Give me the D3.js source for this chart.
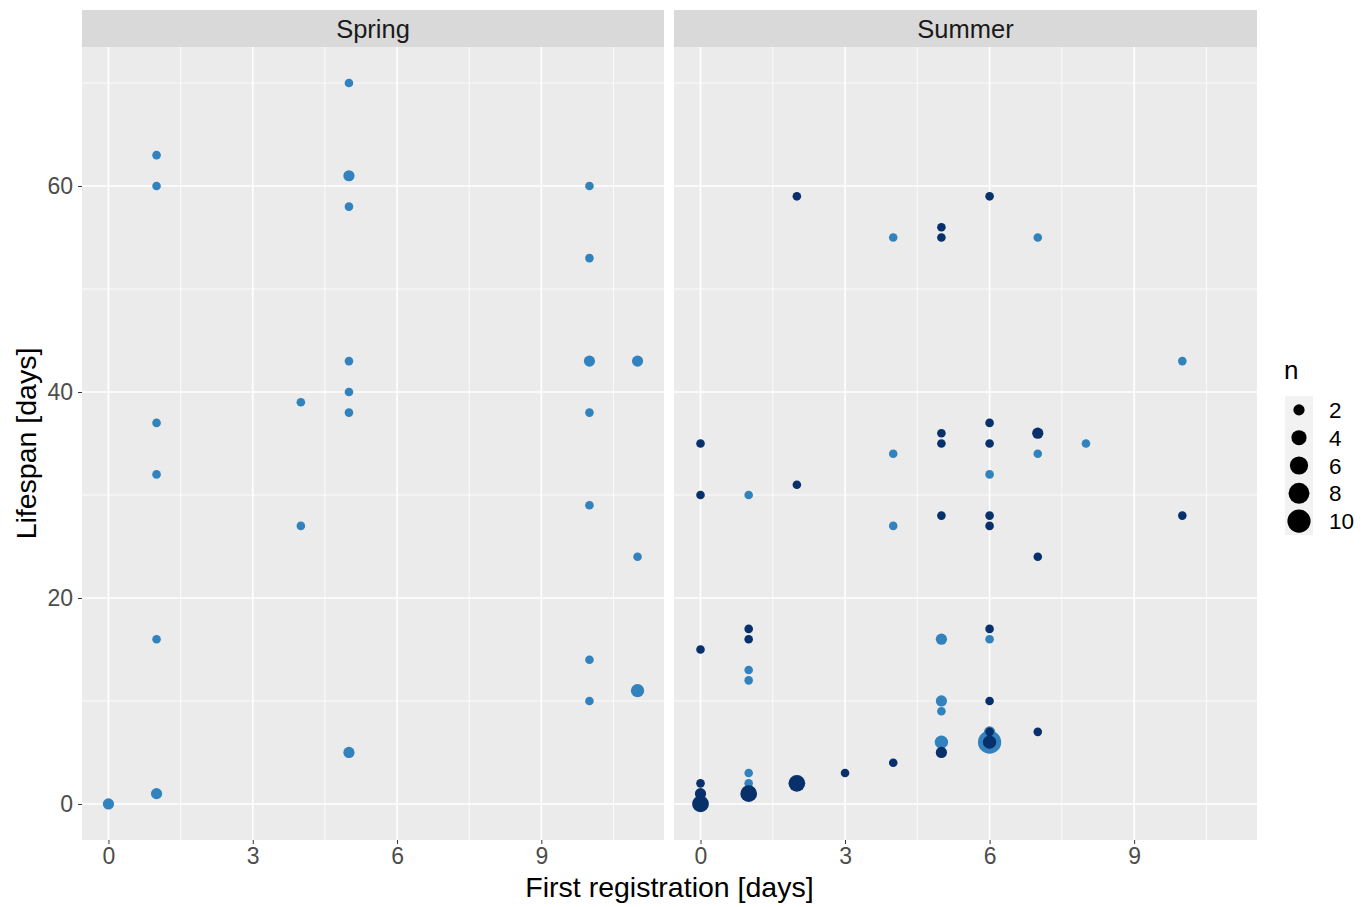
<!DOCTYPE html>
<html>
<head>
<meta charset="utf-8">
<script src="https://cdn.jsdelivr.net/npm/d3@7"></script>
<style>
  html, body { margin: 0; padding: 0; background: #ffffff; }
  svg { display: block; font-family: "Liberation Sans", Arial, Helvetica, sans-serif; }
</style>
</head>
<body>
<svg id="chart" width="1371" height="907"></svg>
<script>
// ---------------- data ----------------
const facets = ["Spring", "Summer"];
const xTicks = [0, 3, 6, 9];
const yTicks = [0, 20, 40, 60];
const legendValues = [2, 4, 6, 8, 10];

// [firstRegistration, lifespan, n]
const springLight = [
  [0, 0, 2],
  [1, 63, 1], [1, 60, 1], [1, 37, 1], [1, 32, 1], [1, 16, 1], [1, 1, 2],
  [4, 39, 1], [4, 27, 1],
  [5, 70, 1], [5, 61, 2], [5, 58, 1], [5, 43, 1], [5, 40, 1], [5, 38, 1], [5, 5, 2],
  [10, 60, 1], [10, 53, 1], [10, 43, 2], [10, 38, 1], [10, 29, 1], [10, 14, 1], [10, 10, 1],
  [11, 43, 2], [11, 24, 1], [11, 11, 3]
];
const springDark = [];

const summerLight = [
  [1, 30, 1], [1, 13, 1], [1, 12, 1], [1, 3, 1], [1, 2, 1],
  [4, 55, 1], [4, 34, 1], [4, 27, 1],
  [5, 16, 2], [5, 10, 2], [5, 9, 1], [5, 6, 3],
  [6, 32, 1], [6, 16, 1], [6, 7, 2], [6, 6, 10],
  [7, 55, 1], [7, 34, 1],
  [8, 35, 1],
  [10, 43, 1]
];
const summerDark = [
  [0, 35, 1], [0, 30, 1], [0, 15, 1], [0, 2, 1], [0, 1, 2], [0, 0, 5],
  [1, 17, 1], [1, 16, 1], [1, 1, 5],
  [2, 59, 1], [2, 31, 1], [2, 2, 5],
  [3, 3, 1],
  [4, 4, 1],
  [5, 56, 1], [5, 55, 1], [5, 36, 1], [5, 35, 1], [5, 28, 1], [5, 5, 2],
  [6, 59, 1], [6, 37, 1], [6, 35, 1], [6, 28, 1], [6, 27, 1], [6, 17, 1], [6, 10, 1], [6, 7, 1], [6, 6, 3],
  [7, 36, 2], [7, 24, 1], [7, 7, 1],
  [10, 28, 1]
];

const lightColor = "#3182bd";
const darkColor = "#08306b";

// ---------------- layout ----------------
const svg = d3.select("#chart");
const panelTop = 47, panelBottom = 840, stripTop = 10;
const panels = [
  { name: facets[0], x0: 82, x1: 664, layers: [[springLight, lightColor], [springDark, darkColor]] },
  { name: facets[1], x0: 674, x1: 1257, layers: [[summerLight, lightColor], [summerDark, darkColor]] }
];

const y = d3.scaleLinear().domain([-3.5, 73.5]).range([panelBottom, panelTop]);
const r = d3.scaleRadial().domain([1, 10]).range([4.3, 11.6]);

const xMinor = [1.5, 4.5, 7.5, 10.5];
const yMinor = [10, 30, 50, 70];

panels.forEach(p => {
  const x = d3.scaleLinear().domain([-0.55, 11.55]).range([p.x0, p.x1]);
  const g = svg.append("g");

  // strip
  g.append("rect").attr("x", p.x0).attr("y", stripTop)
    .attr("width", p.x1 - p.x0).attr("height", panelTop - stripTop).attr("fill", "#d9d9d9");
  g.append("text").attr("x", (p.x0 + p.x1) / 2).attr("y", (stripTop + panelTop) / 2)
    .attr("dy", "0.36em").attr("text-anchor", "middle")
    .attr("font-size", 25.5).attr("fill", "#1a1a1a").text(p.name);

  // panel background
  g.append("rect").attr("x", p.x0).attr("y", panelTop)
    .attr("width", p.x1 - p.x0).attr("height", panelBottom - panelTop).attr("fill", "#ebebeb");

  // minor grid
  g.selectAll(".ymin").data(yMinor).join("line")
    .attr("x1", p.x0).attr("x2", p.x1).attr("y1", d => y(d)).attr("y2", d => y(d))
    .attr("stroke", "#ffffff").attr("stroke-width", 0.8);
  g.selectAll(".xmin").data(xMinor).join("line")
    .attr("y1", panelTop).attr("y2", panelBottom).attr("x1", d => x(d)).attr("x2", d => x(d))
    .attr("stroke", "#ffffff").attr("stroke-width", 0.8);
  // major grid
  g.selectAll(".ymaj").data(yTicks).join("line")
    .attr("x1", p.x0).attr("x2", p.x1).attr("y1", d => y(d)).attr("y2", d => y(d))
    .attr("stroke", "#ffffff").attr("stroke-width", 1.6);
  g.selectAll(".xmaj").data(xTicks).join("line")
    .attr("y1", panelTop).attr("y2", panelBottom).attr("x1", d => x(d)).attr("x2", d => x(d))
    .attr("stroke", "#ffffff").attr("stroke-width", 1.6);

  // points
  p.layers.forEach(([data, color]) => {
    g.append("g").selectAll("circle").data(data).join("circle")
      .attr("cx", d => x(d[0])).attr("cy", d => y(d[1])).attr("r", d => r(d[2]))
      .attr("fill", color);
  });

  // x axis
  const xAxis = g.append("g").attr("transform", `translate(0,${panelBottom})`)
    .call(d3.axisBottom(x).tickValues(xTicks).tickSize(4).tickPadding(4).tickFormat(d3.format("d")));
  xAxis.select(".domain").remove();
  xAxis.selectAll("line").attr("stroke", "#333333").attr("stroke-width", 1);
  xAxis.selectAll("text").attr("font-size", 23).attr("fill", "#4d4d4d")
    .attr("font-family", "Liberation Sans, Arial, sans-serif");
});

// y axis (left panel only)
const yAxis = svg.append("g").attr("transform", `translate(${panels[0].x0},0)`)
  .call(d3.axisLeft(y).tickValues(yTicks).tickSize(4).tickPadding(5).tickFormat(d3.format("d")));
yAxis.select(".domain").remove();
yAxis.selectAll("line").attr("stroke", "#333333").attr("stroke-width", 1);
yAxis.selectAll("text").attr("font-size", 23).attr("fill", "#4d4d4d")
  .attr("font-family", "Liberation Sans, Arial, sans-serif");

// axis titles
svg.append("text").attr("x", (panels[0].x0 + panels[1].x1) / 2).attr("y", 897)
  .attr("text-anchor", "middle").attr("font-size", 28.5).attr("fill", "#000")
  .text("First registration [days]");
svg.append("text")
  .attr("transform", `translate(36,${(panelTop + panelBottom) / 2}) rotate(-90)`)
  .attr("text-anchor", "middle").attr("font-size", 28.5).attr("fill", "#000")
  .text("Lifespan [days]");

// legend
const lg = svg.append("g");
lg.append("text").attr("x", 1284).attr("y", 379).attr("font-size", 26).attr("fill", "#000").text("n");
const keyX = 1285, keyW = 28, keyTop = 396, keyH = 27.8;
lg.append("rect").attr("x", keyX).attr("y", keyTop).attr("width", keyW)
  .attr("height", keyH * legendValues.length).attr("fill", "#f2f2f2");
legendValues.forEach((v, i) => {
  const cy = keyTop + keyH * (i + 0.5);
  lg.append("circle").attr("cx", keyX + keyW / 2).attr("cy", cy).attr("r", r(v)).attr("fill", "#000");
  lg.append("text").attr("x", keyX + keyW + 16).attr("y", cy).attr("dy", "0.36em")
    .attr("font-size", 22.5).attr("fill", "#000").text(v);
});
</script>
</body>
</html>
